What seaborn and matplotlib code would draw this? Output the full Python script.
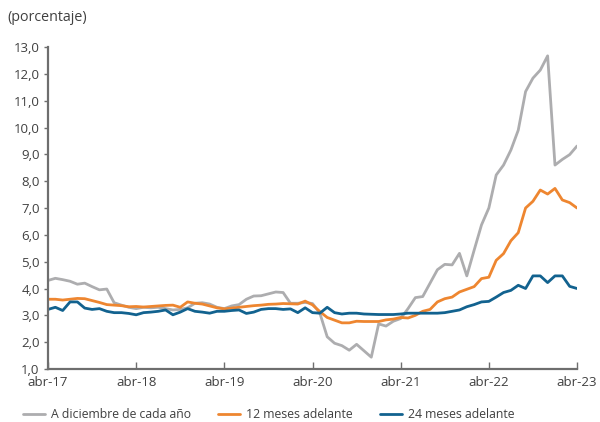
import matplotlib
matplotlib.use("Agg")
import matplotlib.pyplot as plt
import seaborn as sns
import pandas as pd
import numpy as np
from matplotlib.ticker import FuncFormatter, MultipleLocator

# Monthly data, abr-17 .. abr-23 (73 months)
dic_cada_ano = [
    4.30, 4.38, 4.33, 4.27, 4.16, 4.20, 4.07, 3.95, 3.98, 3.47, 3.38, 3.30,
    3.25, 3.30, 3.28, 3.30, 3.25, 3.20, 3.22, 3.28, 3.45, 3.47, 3.42, 3.30,
    3.25, 3.35, 3.40, 3.60, 3.72, 3.73, 3.80, 3.87, 3.85, 3.45, 3.45, 3.48,
    3.44, 3.08, 2.20, 1.96, 1.87, 1.70, 1.92, 1.68, 1.44, 2.68, 2.60, 2.78,
    2.88, 3.25, 3.66, 3.70, 4.20, 4.70, 4.90, 4.88, 5.31, 4.47, 5.43, 6.37,
    7.00, 8.23, 8.60, 9.16, 9.90, 11.34, 11.84, 12.14, 12.67, 8.60, 8.81, 8.99,
    9.31,
]
meses_12 = [
    3.60, 3.60, 3.57, 3.60, 3.63, 3.62, 3.55, 3.48, 3.40, 3.38, 3.36, 3.32,
    3.33, 3.31, 3.33, 3.35, 3.37, 3.38, 3.30, 3.50, 3.45, 3.42, 3.35, 3.28,
    3.24, 3.27, 3.30, 3.33, 3.36, 3.38, 3.41, 3.42, 3.44, 3.43, 3.42, 3.53,
    3.39, 3.14, 2.92, 2.82, 2.72, 2.72, 2.78, 2.77, 2.77, 2.77, 2.83, 2.86,
    2.92, 2.90, 3.00, 3.15, 3.22, 3.50, 3.62, 3.68, 3.87, 3.97, 4.07, 4.37,
    4.42, 5.05, 5.30, 5.78, 6.08, 7.00, 7.25, 7.67, 7.52, 7.73, 7.30, 7.20,
    7.00,
]
meses_24 = [
    3.22, 3.30, 3.18, 3.50, 3.50, 3.27, 3.22, 3.25, 3.15, 3.10, 3.10, 3.07,
    3.02, 3.10, 3.12, 3.15, 3.20, 3.02, 3.12, 3.25, 3.15, 3.12, 3.08, 3.15,
    3.15, 3.18, 3.20, 3.07, 3.12, 3.22, 3.25, 3.25, 3.22, 3.24, 3.10, 3.28,
    3.10, 3.08, 3.30, 3.10, 3.05, 3.08, 3.08, 3.05, 3.04, 3.03, 3.03, 3.03,
    3.05, 3.08, 3.08, 3.08, 3.08, 3.08, 3.10, 3.15, 3.20, 3.32, 3.40, 3.50,
    3.52, 3.68, 3.85, 3.93, 4.12, 4.00, 4.47, 4.47, 4.22, 4.47, 4.47, 4.08,
    4.00,
]
series_names = ["A diciembre de cada año", "12 meses adelante", "24 meses adelante"]
tick_labels = ["abr-17", "abr-18", "abr-19", "abr-20", "abr-21", "abr-22", "abr-23"]
colors = ["#ADADAF", "#EE8630", "#12628F"]

n = len(dic_cada_ano)
mes = np.arange(n)
df = pd.concat([
    pd.DataFrame({"mes": mes, "valor": vals, "serie": name})
    for name, vals in zip(series_names, [dic_cada_ano, meses_12, meses_24])
])

sns.set_style("white")
plt.rcParams["font.family"] = ["Open Sans", "DejaVu Sans"]

fig = plt.figure(figsize=(6.0, 4.22), dpi=100)
ax = fig.add_axes([0.08, 0.1256, 0.8817, 0.763])

sns.lineplot(data=df, x="mes", y="valor", hue="serie", hue_order=series_names,
             palette=colors, linewidth=2.0, ax=ax, legend=True)

ax.set_xlim(0, n - 1)
ax.set_ylim(1.0, 13.0)
ax.yaxis.set_major_locator(MultipleLocator(1.0))
ax.yaxis.set_major_formatter(FuncFormatter(lambda v, p: f"{v:.1f}".replace(".", ",")))
ax.set_xticks(np.arange(0, n, 12))
ax.set_xticklabels(tick_labels)
ax.set_xlabel("")
ax.set_ylabel("")

for s in ["top", "right"]:
    ax.spines[s].set_visible(False)
for s in ["left", "bottom"]:
    ax.spines[s].set_color("#6E6E6E")
    ax.spines[s].set_linewidth(1.6)

ax.tick_params(axis="y", direction="out", length=3, width=1, color="#6E6E6E",
               labelsize=9.5, labelcolor="#404040", pad=3, left=True)
ax.tick_params(axis="x", direction="in", length=5, width=1, color="#6E6E6E",
               labelsize=9.5, labelcolor="#404040", pad=5, bottom=True)

fig.text(0.013, 0.958, "(porcentaje)", fontsize=10.3, color="#404040", va="center")

handles, labels = ax.get_legend_handles_labels()
ax.legend(handles, labels, loc="center", bbox_to_anchor=(0.448, 0.018),
          bbox_transform=fig.transFigure, ncol=3, frameon=False,
          fontsize=8.8, handlelength=1.8, handletextpad=0.5, columnspacing=2.2,
          labelcolor="#404040")

fig.savefig("out.png", dpi=100)
